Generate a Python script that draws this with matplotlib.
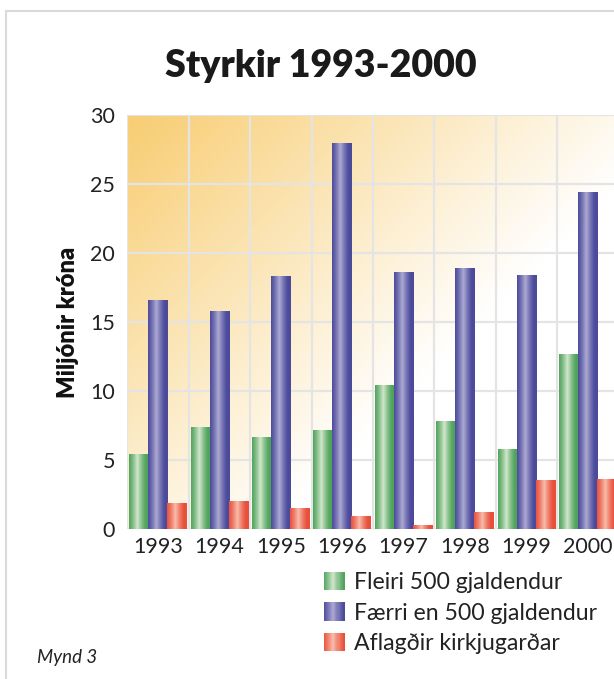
import numpy as np
import matplotlib
matplotlib.use("Agg")
import matplotlib.pyplot as plt
from matplotlib.patches import Rectangle, Patch
from matplotlib.colors import to_rgb
from matplotlib.legend_handler import HandlerPatch

years = ["1993", "1994", "1995", "1996", "1997", "1998", "1999", "2000"]
fleiri = [5.4, 7.4, 6.7, 7.2, 10.4, 7.8, 5.8, 12.7]
faerri = [16.6, 15.8, 18.3, 28.0, 18.6, 18.9, 18.4, 24.4]
aflagdir = [1.85, 2.05, 1.5, 0.95, 0.3, 1.2, 3.55, 3.65]
series_names = ["Fleiri 500 gjaldendur", "Færri en 500 gjaldendur", "Aflagðir kirkjugarðar"]
yticks = [0, 5, 10, 15, 20, 25, 30]

edge_cols = ["#4fa35b", "#4b4a9b", "#e9503b"]
light_cols = ["#d2e7cc", "#aeaad3", "#f9bdad"]

FONT = "Lato"
W, H = 614, 679
fig = plt.figure(figsize=(W / 100, H / 100), dpi=100)
fig.patch.set_facecolor("white")

ax_l, ax_r, ax_t, ax_b = 127.3, 618.5, 115.0, 529.0
ax = fig.add_axes([ax_l / W, 1 - ax_b / H, (ax_r - ax_l) / W, (ax_b - ax_t) / H])

# background gradient
nx, ny = 400, 340
u = np.linspace(0, ax_r - ax_l, nx)[None, :]
v = np.linspace(0, ax_b - ax_t, ny)[:, None]
t = np.clip((u + v) / 560.0, 0, 1)
w = (1 - t) ** 1.0
orange = np.array(to_rgb("#f8cd72"))
img = np.ones((ny, nx, 3)) * (1 - w[..., None]) + orange * w[..., None]
ax.imshow(img, extent=[0, 1, 0, 1], transform=ax.transAxes, aspect="auto",
          zorder=0, interpolation="bilinear")

x = np.arange(len(years))
offsets = [-0.31, 0.0, 0.31]
width = 0.32


def bar_gradient(e, l):
    e = np.array(to_rgb(e)); l = np.array(to_rgb(l))
    s = np.linspace(0, 1, 64)
    prof = np.clip(1 - np.abs(s - 0.42) / 0.45, 0, 1) ** 1.3
    return (e[None, :] * (1 - prof[:, None]) + l[None, :] * prof[:, None])[None, :, :]


for k, vals in enumerate([fleiri, faerri, aflagdir]):
    bars = ax.bar(x + offsets[k], vals, width=width, color=edge_cols[k],
                  zorder=3 + k * 0.1 if k != 2 else 4, linewidth=0)
    grad = bar_gradient(edge_cols[k], light_cols[k])
    for b in bars:
        x0, y0 = b.get_x(), b.get_y()
        im = ax.imshow(grad, extent=[x0, x0 + b.get_width(), y0, y0 + b.get_height()],
                       aspect="auto", zorder=b.get_zorder() + 0.01, interpolation="bilinear")
        im.set_clip_path(b)

ax.set_xlim(-0.5, len(years) - 0.5)
ax.set_ylim(0, 30)
ax.set_yticks(yticks)
ax.set_xticks(x)
ax.set_xticklabels(years)
ax.grid(False)
for yy in yticks:
    ax.axhline(yy, color="#e4e4e4", lw=1.6, zorder=1)
for xx in np.arange(-0.5, len(years), 1.0):
    ax.axvline(xx, color="#e4e4e4", lw=1.6, zorder=1)
for s in ax.spines.values():
    s.set_visible(False)
ax.tick_params(axis="both", which="both", length=0, labelsize=15.5, colors="#222222")
ax.tick_params(axis="y", pad=9)
ax.tick_params(axis="x", pad=6)
for lab in ax.get_xticklabels() + ax.get_yticklabels():
    lab.set_fontfamily(FONT)

ax.set_ylabel("Miljónir króna", fontsize=17, fontweight="heavy", family=FONT,
              color="#111111", labelpad=8)

fig.text(321 / W, 1 - 66 / H, "Styrkir 1993-2000", ha="center", va="center",
         fontsize=27, fontweight="heavy", family=FONT, color="#1a1a1a")

fig.text(37 / W, 1 - 657 / H, "Mynd 3", ha="left", va="center", fontsize=13.5,
         style="italic", family=FONT, color="#222222")


class GradHandler(HandlerPatch):
    def create_artists(self, legend, orig_handle, xdescent, ydescent, width, height, fontsize, trans):
        e = np.array(to_rgb(orig_handle.get_facecolor()[:3]))
        l = np.array(to_rgb(orig_handle.get_edgecolor()[:3]))
        arts = []
        n = 20
        for i in range(n):
            s = (i + 0.5) / n
            p = max(0.0, 1 - abs(s - 0.45) / 0.5) ** 1.2
            c = e * (1 - p) + l * p
            r = Rectangle((-xdescent + width * i / n, -ydescent), width / n * 1.6, height,
                          facecolor=c, edgecolor="none", transform=trans, antialiased=False)
            arts.append(r)
        return arts


handles = [Patch(facecolor=edge_cols[k], edgecolor=light_cols[k]) for k in range(3)]
leg = fig.legend(handles, series_names, loc="upper left",
                 bbox_to_anchor=(324 / W, 1 - 572 / H), frameon=False,
                 prop={"family": FONT, "size": 16.6}, handlelength=0.9, handleheight=0.85,
                 handletextpad=0.4, labelspacing=0.4, borderaxespad=0, borderpad=0,
                 handler_map={Patch: GradHandler()})
for txt in leg.get_texts():
    txt.set_color("#222222")

fig.patches.append(Rectangle((6 / W, -0.2), 2.0, 1 - 11 / H + 0.2, transform=fig.transFigure,
                             fill=False, edgecolor="#d9d9d9", lw=1.5, zorder=-1))

fig.savefig("out.png", dpi=100)
